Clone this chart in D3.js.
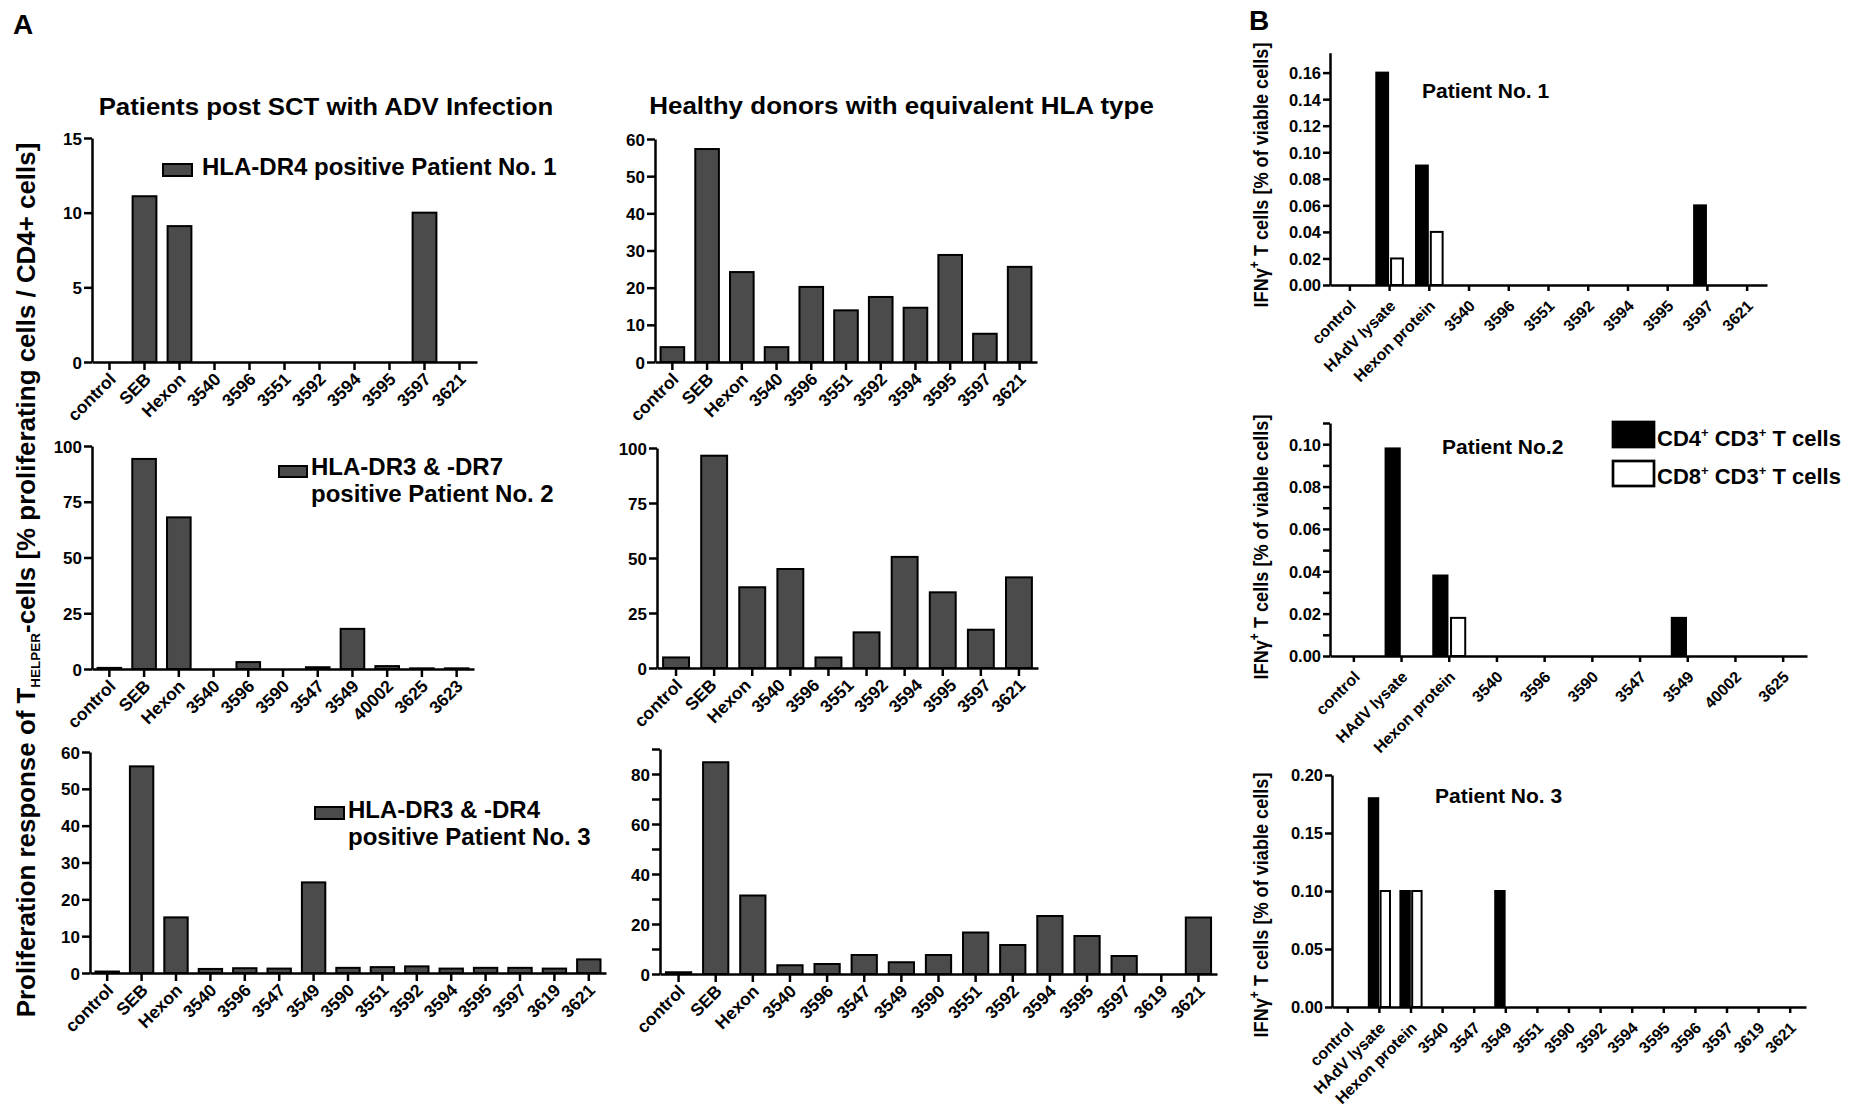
<!DOCTYPE html>
<html><head><meta charset="utf-8">
<script src="https://cdn.jsdelivr.net/npm/d3@7"></script>
<style>
body{margin:0;background:#fff}
svg text{font-family:"Liberation Sans",Arial,Helvetica,sans-serif;font-weight:bold;fill:#000}
</style>
</head><body>
<svg id="fig" width="1855" height="1118"></svg>
<script>
// ---------------- DATA ----------------
// Panel A, row 1 (Patient No. 1 / healthy donors)
const a1Labels = ["control","SEB","Hexon","3540","3596","3551","3592","3594","3595","3597","3621"];
const a1Patient = [0, 11.1, 9.1, 0, 0, 0, 0, 0, 0, 10.0, 0];
const a1DonorLabels = ["control","SEB","Hexon","3540","3596","3551","3592","3594","3595","3597","3621"];
const a1Donor = [4.0, 57.3, 24.2, 4.0, 20.2, 13.9, 17.5, 14.6, 28.8, 7.6, 25.6];
// Panel A, row 2 (Patient No. 2 / healthy donors)
const a2Labels = ["control","SEB","Hexon","3540","3596","3590","3547","3549","40002","3625","3623"];
const a2Patient = [0.5, 94.2, 68.0, 0, 3.1, 0, 0.8, 18.0, 1.3, 0.3, 0.3];
const a2DonorLabels = ["control","SEB","Hexon","3540","3596","3551","3592","3594","3595","3597","3621"];
const a2Donor = [4.8, 96.5, 36.7, 45.0, 4.8, 16.2, 50.5, 34.4, 17.4, 41.2];
// Panel A, row 3 (Patient No. 3 / healthy donors)
const a3Labels = ["control","SEB","Hexon","3540","3596","3547","3549","3590","3551","3592","3594","3595","3597","3619","3621"];
const a3Patient = [0.4, 56.1, 15.1, 1.1, 1.3, 1.2, 24.6, 1.4, 1.6, 1.8, 1.2, 1.4, 1.4, 1.2, 3.7];
const a3DonorLabels = ["control","SEB","Hexon","3540","3596","3547","3549","3590","3551","3592","3594","3595","3597","3619","3621"];
const a3Donor = [0.7, 84.7, 31.4, 3.5, 4.0, 7.6, 4.7, 7.6, 16.6, 11.6, 23.2, 15.2, 7.2, 0, 22.6];
// Y ticks, panel A
const a1PatientTicks = [0,5,10,15];
const a1DonorTicks = [0,10,20,30,40,50,60];
const a2Ticks = [0,25,50,75,100];
const a3PatientTicks = [0,10,20,30,40,50,60];
const a3DonorTicks = [0,10,20,30,40,50,60,70,80,90];
const a3DonorTickLabels = [0,20,40,60,80];

// Panel B (IFN-gamma+ T cells)
const b1Labels = ["control","HAdV lysate","Hexon protein","3540","3596","3551","3592","3594","3595","3597","3621"];
const b1CD4 = [0, 0.16, 0.09, 0, 0, 0, 0, 0, 0, 0.06, 0];
const b1CD8 = [0, 0.02, 0.04, 0, 0, 0, 0, 0, 0, 0, 0];
const b2Labels = ["control","HAdV lysate","Hexon protein","3540","3596","3590","3547","3549","40002","3625"];
const b2CD4 = [0, 0.098, 0.038, 0, 0, 0, 0, 0.018, 0, 0];
const b2CD8 = [0, 0, 0.018, 0, 0, 0, 0, 0, 0, 0];
const b3Labels = ["control","HAdV lysate","Hexon protein","3540","3547","3549","3551","3590","3592","3594","3595","3596","3597","3619","3621"];
const b3CD4 = [0, 0.18, 0.10, 0, 0, 0.10, 0, 0, 0, 0, 0, 0, 0, 0, 0];
const b3CD8 = [0, 0.10, 0.10, 0, 0, 0, 0, 0, 0, 0, 0, 0, 0, 0, 0];
const b1Ticks = [0,0.02,0.04,0.06,0.08,0.10,0.12,0.14,0.16];
const b2Ticks = [0,0.01,0.02,0.03,0.04,0.05,0.06,0.07,0.08,0.09,0.10,0.11];
const b2TickLabels = [0,0.02,0.04,0.06,0.08,0.10];
const b3Ticks = [0,0.05,0.10,0.15,0.20];

// ---------------- DRAWING ----------------
const svg = d3.select("#fig");
const BAR_GREY = "#4b4b4b";

function fitText(sel, target, x, y, rot){
  const w = sel.node().getBBox().width;
  const k = target / w;
  sel.attr("transform", `translate(${x},${y})${rot?` rotate(${rot})`:""} scale(${k},1)`);
}

function styleAxis(g, sw){
  g.select(".domain").attr("stroke","#000").attr("stroke-width",sw);
  g.selectAll(".tick line").attr("stroke","#000").attr("stroke-width",sw);
}

function drawA(p){
  const g = svg.append("g");
  const n = p.values.length;
  const x = d3.scaleBand().domain(d3.range(n)).range([p.x0,p.x1]).paddingInner(0.32).paddingOuter(0.16);
  const y = d3.scaleLinear().domain([0,p.max]).range([p.y0,p.yTop]);
  g.selectAll("rect.bar").data(p.values.map((v,i)=>({v,i})).filter(d=>d.v>0)).join("rect")
    .attr("class","bar")
    .attr("x",d=>x(d.i)).attr("width",x.bandwidth())
    .attr("y",d=>y(d.v)).attr("height",d=>p.y0-y(d.v))
    .attr("fill",BAR_GREY).attr("stroke","#000").attr("stroke-width",2);
  const labelSet = p.tickLabels || p.ticks;
  const ya = g.append("g").attr("transform",`translate(${p.x0},0)`)
    .call(d3.axisLeft(y).tickValues(p.ticks).tickSize(8).tickSizeOuter(0)
      .tickFormat(d=>labelSet.includes(d)?d3.format("d")(d):""));
  ya.attr("font-size",17).attr("font-family",null);
  ya.selectAll(".tick text").attr("x",-10).attr("dy","0.36em");
  styleAxis(ya,2.5);
  const xa = g.append("g").attr("transform",`translate(0,${p.y0})`)
    .call(d3.axisBottom(x).tickSize(8).tickSizeOuter(0).tickFormat(""));
  styleAxis(xa,2.5);
  const bw = x.bandwidth()/2;
  const lx = d3.scalePoint().domain(d3.range(p.labels.length)).range([x(0)+bw, x(n-1)+bw]);
  g.selectAll("text.xl").data(p.labels).join("text").attr("class","xl")
    .attr("text-anchor","end").attr("font-size",17.5).attr("dy","0.35em")
    .attr("transform",(d,i)=>`translate(${lx(i)+3},${p.y0+14}) rotate(-45)`)
    .text(d=>d);
}

function drawB(p){
  const g = svg.append("g");
  const n = p.labels.length;
  const x = d3.scaleBand().domain(d3.range(n)).range([p.x0,p.x1]);
  const sub = d3.scaleBand().domain(["cd4","cd8"]).range([x.bandwidth()*0.165, x.bandwidth()*0.835]).paddingInner(0.2);
  const y = d3.scaleLinear().domain([0,p.max]).range([p.y0,p.yTop]);
  const rows = [];
  p.cd4.forEach((v,i)=>{ if(v>0) rows.push({i,v,k:"cd4"}); });
  p.cd8.forEach((v,i)=>{ if(v>0) rows.push({i,v,k:"cd8"}); });
  g.selectAll("rect.bar").data(rows).join("rect").attr("class","bar")
    .attr("x",d=>x(d.i)+sub(d.k)).attr("width",sub.bandwidth())
    .attr("y",d=>y(d.v)).attr("height",d=>p.y0-y(d.v))
    .attr("fill",d=>d.k==="cd4"?"#000":"#fff").attr("stroke","#000").attr("stroke-width",2);
  const labelSet = p.tickLabels || p.ticks;
  const ya = g.append("g").attr("transform",`translate(${p.x0},0)`)
    .call(d3.axisLeft(y).tickValues(p.ticks).tickSize(7).tickSizeOuter(0)
      .tickFormat(d=>labelSet.some(t=>Math.abs(t-d)<1e-9)?d3.format(".2f")(d):""));
  ya.attr("font-size",16.5).attr("font-family",null);
  ya.selectAll(".tick text").attr("x",-9).attr("dy","0.36em");
  styleAxis(ya,2.5);
  const xa = g.append("g").attr("transform",`translate(0,${p.y0})`)
    .call(d3.axisBottom(x).tickSize(6).tickSizeOuter(0).tickFormat(""));
  styleAxis(xa,2.5);
  g.selectAll("text.xl").data(p.labels).join("text").attr("class","xl")
    .attr("text-anchor","end").attr("font-size",16).attr("dy","0.35em")
    .attr("transform",(d,i)=>`translate(${x(i)+x.bandwidth()/2+3},${p.y0+18}) rotate(-45)`)
    .text(d=>d);
  // patient label
  g.append("text").attr("x",p.title[1]).attr("y",p.title[2]).attr("font-size",21).text(p.title[0]);
  // y label
  const yl = g.append("text").attr("text-anchor","middle").attr("font-size",21);
  yl.append("tspan").text("IFN\u03B3");
  yl.append("tspan").attr("dy",-9).attr("font-size",14).text("+");
  yl.append("tspan").attr("dy",9).text(" T cells [% of viable cells]");
  fitText(yl, 265, 1268, p.yLabelY, -90);
}

// Panel letters
svg.append("text").attr("x",13).attr("y",34).attr("font-size",28).text("A");
svg.append("text").attr("x",1249).attr("y",30).attr("font-size",28).text("B");

// Column titles
const t1 = svg.append("text").attr("text-anchor","middle").attr("font-size",24).text("Patients post SCT with ADV Infection");
fitText(t1, 455, 326, 115);
const t2 = svg.append("text").attr("text-anchor","middle").attr("font-size",24).text("Healthy donors with equivalent HLA type");
fitText(t2, 505, 901.5, 114);

// Shared Y label for A
const ylA = svg.append("text").attr("text-anchor","middle").attr("font-size",25);
ylA.append("tspan").text("Proliferation response of T");
ylA.append("tspan").attr("font-size",13).attr("dy",5).text("HELPER");
ylA.append("tspan").attr("dy",-5).text("-cells [% proliferating cells / CD4+ cells]");
fitText(ylA, 875, 35, 580, -90);

// A panels
drawA({values:a1Patient, labels:a1Labels, max:15, ticks:a1PatientTicks, x0:92, x1:477, y0:362, yTop:138});
drawA({values:a1Donor, labels:a1DonorLabels, max:60, ticks:a1DonorTicks, x0:655, x1:1037, y0:362, yTop:139});
drawA({values:a2Patient, labels:a2Labels, max:100, ticks:a2Ticks, x0:92, x1:474, y0:669, yTop:446});
drawA({values:a2Donor, labels:a2DonorLabels, max:100, ticks:a2Ticks, x0:657, x1:1038, y0:668, yTop:448});
drawA({values:a3Patient, labels:a3Labels, max:60, ticks:a3PatientTicks, x0:90, x1:606, y0:973, yTop:752});
drawA({values:a3Donor, labels:a3DonorLabels, max:90, ticks:a3DonorTicks, tickLabels:a3DonorTickLabels, x0:660, x1:1217, y0:974, yTop:749});

// A legends
function legendA(rx, ry, rw, rh, tx, lines, by){
  svg.append("rect").attr("x",rx).attr("y",ry).attr("width",rw).attr("height",rh)
    .attr("fill",BAR_GREY).attr("stroke","#000").attr("stroke-width",2);
  lines.forEach((l,i)=>svg.append("text").attr("x",tx).attr("y",by+i*27).attr("font-size",24).text(l));
}
legendA(163,164,29,12,202,["HLA-DR4 positive Patient No. 1"],175);
legendA(279,466,28,11,311,["HLA-DR3 & -DR7","positive Patient No. 2"],475);
legendA(315,807,29,12,348,["HLA-DR3 & -DR4","positive Patient No. 3"],818);

// B panels
drawB({labels:b1Labels, cd4:b1CD4, cd8:b1CD8, max:0.175, ticks:b1Ticks, x0:1330, x1:1767, y0:285, yTop:52.7, title:["Patient No. 1",1422,98], yLabelY:175});
drawB({labels:b2Labels, cd4:b2CD4, cd8:b2CD8, max:0.11, ticks:b2Ticks, tickLabels:b2TickLabels, x0:1330, x1:1807, y0:656, yTop:423, title:["Patient No.2",1442,454], yLabelY:547});
drawB({labels:b3Labels, cd4:b3CD4, cd8:b3CD8, max:0.20, ticks:b3Ticks, x0:1332, x1:1806, y0:1007, yTop:775, title:["Patient No. 3",1435,803], yLabelY:905});

// B legend
function legendB(ry, fill, num, by){
  svg.append("rect").attr("x",1613).attr("y",ry).attr("width",41).attr("height",25)
    .attr("fill",fill).attr("stroke","#000").attr("stroke-width",2.7);
  const t = svg.append("text").attr("x",1657).attr("y",by).attr("font-size",22);
  t.append("tspan").text("CD"+num);
  t.append("tspan").attr("dy",-9).attr("font-size",13).text("+");
  t.append("tspan").attr("dy",9).text(" CD3");
  t.append("tspan").attr("dy",-9).attr("font-size",13).text("+");
  t.append("tspan").attr("dy",9).text(" T cells");
}
legendB(422,"#000","4",446);
legendB(461,"#fff","8",484);
</script>
</body></html>
